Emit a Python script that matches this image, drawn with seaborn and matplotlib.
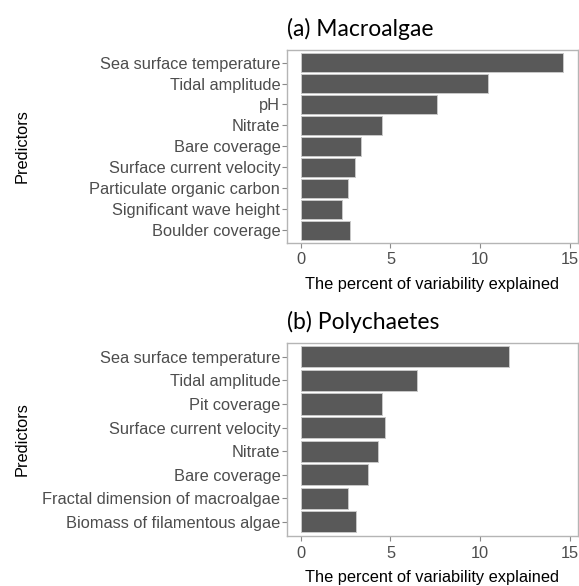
import matplotlib
matplotlib.use('Agg')
import matplotlib.pyplot as plt
import seaborn as sns
import pandas as pd

# Données
macro_predictors = ['Sea surface temperature', 'Tidal amplitude', 'pH', 'Nitrate',
                    'Bare coverage', 'Surface current velocity',
                    'Particulate organic carbon', 'Significant wave height',
                    'Boulder coverage']
macro_values = [14.6, 10.45, 7.6, 4.5, 3.35, 3.05, 2.65, 2.32, 2.75]

poly_predictors = ['Sea surface temperature', 'Tidal amplitude', 'Pit coverage',
                   'Surface current velocity', 'Nitrate', 'Bare coverage',
                   'Fractal dimension of macroalgae', 'Biomass of filamentous algae']
poly_values = [11.63, 6.46, 4.55, 4.72, 4.28, 3.72, 2.65, 3.06]

x_ticks = [0, 5, 10, 15]

sns.set_theme(style='white')
plt.rcParams['font.family'] = ['Liberation Sans', 'DejaVu Sans']

W, H = 579, 586
fig = plt.figure(figsize=(W / 100, H / 100), dpi=100)

left, right = 287.3 / W, 577.5 / W
panels = [
    ('(a) Macroalgae', macro_predictors, macro_values, 50.0, 242.7),
    ('(b) Polychaetes', poly_predictors, poly_values, 342.7, 536.0),
]

for title, preds, vals, top_px, bot_px in panels:
    ax = fig.add_axes([left, 1 - bot_px / H, right - left, (bot_px - top_px) / H])
    df = pd.DataFrame({'Predictors': preds, 'value': vals})
    sns.barplot(data=df, x='value', y='Predictors', orient='h', order=preds,
                color='#595959', saturation=1, width=0.9,
                edgecolor='#C8C8C8', linewidth=0.7, ax=ax)
    n = len(preds)
    ax.set_ylim(n - 1 + 0.6, -0.6)
    ax.set_xlim(-0.75, 15.42)
    ax.set_xticks(x_ticks)
    ax.set_xticklabels([str(t) for t in x_ticks])
    for s in ax.spines.values():
        s.set_color('#B5B5B5')
        s.set_linewidth(1.0)
    ax.tick_params(axis='both', which='major', length=3.5, width=0.8,
                   color='#8A8A8A', labelsize=11.8, labelcolor='#4D4D4D',
                   bottom=True, left=True, pad=1.5)
    ax.tick_params(axis='x', pad=3.5)
    ax.set_xlabel('The percent of variability explained', fontsize=11.8,
                  color='black', labelpad=7)
    ax.set_ylabel('Predictors', fontsize=11.8, color='black')
    ax.yaxis.set_label_coords(-0.887, 0.5)
    ax.set_title(title, loc='left', fontsize=16.5, family=['Lato', 'DejaVu Sans'],
                 color='black', pad=10)

fig.savefig('out.png', dpi=100)
